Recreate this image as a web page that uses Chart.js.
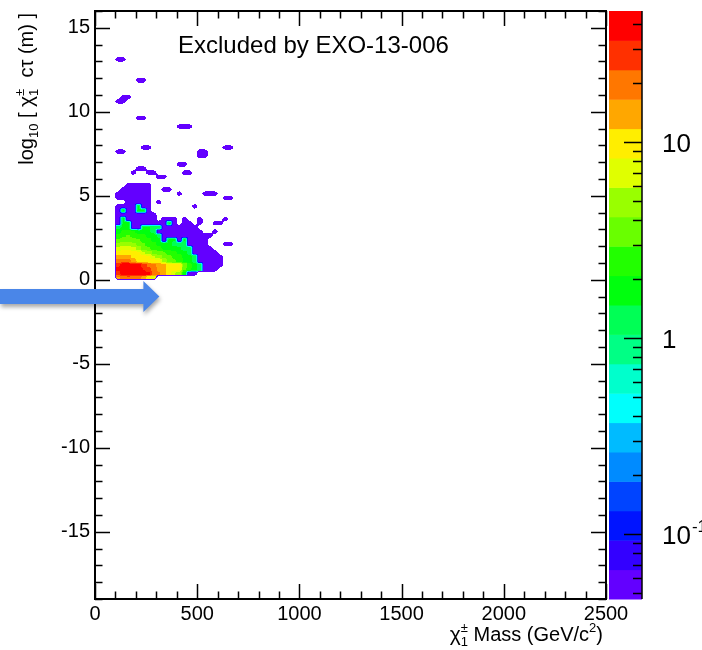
<!DOCTYPE html>
<html>
<head>
<meta charset="utf-8">
<script src="https://cdn.jsdelivr.net/npm/chart.js@4.4.1/dist/chart.umd.min.js"></script>
<style>
  html, body { margin: 0; padding: 0; background: #ffffff; }
  #wrap { width: 702px; height: 650px; }
</style>
</head>
<body>
<div id="wrap"><canvas id="c" width="702" height="650"></canvas></div>
<script>
// ---------------------------------------------------------------------------
// Data: event yield per (chargino mass, log10 c*tau) bin
// ---------------------------------------------------------------------------
const MASS_ORIGIN = 12.5, MASS_STEP = 25;     // GeV, bin centre offset / width
const LIFE_ORIGIN = 0.125, LIFE_STEP = 0.25;  // log10(c tau / m) centre offset / width

// mass bin centres (GeV) of the densely populated block
const massCentres = [112.5, 137.5, 162.5, 187.5, 212.5, 237.5, 262.5, 287.5, 312.5, 337.5, 362.5, 387.5,
                     412.5, 437.5, 462.5, 487.5, 512.5, 537.5, 562.5, 587.5, 612.5, 637.5, 662.5, 687.5];
// log10(c tau) bin centres of the densely populated block (bottom row first)
const lifetimeCentres = [0.125, 0.375, 0.625, 0.875, 1.125, 1.375, 1.625, 1.875, 2.125, 2.375, 2.625, 2.875,
                         3.125, 3.375, 3.625, 3.875, 4.125, 4.375, 4.625, 4.875, 5.125, 5.375, 5.625];
// yields, one row per lifetime bin, one column per mass bin (0 = empty)
const coreYield = [
  [16, 20, 22, 20, 18, 14, 10, 6, 0, 0, 0, 0, 0, 0, 0, 0, 0, 0, 0, 0, 0, 0, 0, 0],
  [28, 40, 44, 44, 42, 40, 36, 22, 17, 13, 9, 6, 4.5, 2, 0.05, 0.05, 0, 0, 0, 0, 0, 0, 0, 0],
  [36, 45, 46, 45, 42, 33, 25, 20, 16, 13, 10, 9, 8.5, 3, 2.2, 1.6, 1.2, 0.05, 0.05, 0.05, 0, 0, 0, 0],
  [32, 38, 40, 38, 36, 30, 22, 18, 15, 13, 10, 9, 8.5, 4, 2.5, 1.8, 1.3, 0.05, 0.05, 0.05, 0.05, 0, 0, 0],
  [18, 22, 20, 14, 11, 10, 9.5, 9, 8.5, 5, 4, 3, 2.5, 2, 1.6, 1.3, 0.05, 0.05, 0.05, 0.05, 0.05, 0, 0, 0],
  [13, 14, 13, 11, 9.5, 9, 8.5, 6, 5, 4, 3.2, 2.8, 2.4, 2, 1.6, 1.3, 0.05, 0.05, 0.05, 0.05, 0.05, 0, 0, 0],
  [9.5, 10, 10, 9.5, 8.5, 6, 5, 4, 3.5, 3, 2.5, 2.2, 2, 1.6, 1.3, 0.05, 0.05, 0.05, 0.05, 0.05, 0, 0, 0, 0],
  [6.5, 7, 7, 6.5, 5, 3.5, 3, 2.5, 2.2, 2, 1.8, 1.6, 1.5, 1.3, 1.2, 0.05, 0.05, 0.05, 0.05, 0, 0, 0, 0, 0],
  [4.5, 5, 5, 4.5, 4, 3, 2.5, 2.2, 2, 1.8, 1.6, 1.4, 1.3, 1.2, 0.05, 0.05, 0.05, 0.05, 0, 0, 0, 0.05, 0.05, 0],
  [3, 3.5, 3.5, 3.2, 3, 2.5, 2.2, 2, 1.6, 0.05, 1.5, 1.5, 0.05, 1.5, 0.05, 0.05, 0.05, 0.05, 0, 0, 0, 0, 0, 0],
  [2.2, 2.8, 3, 2.8, 2.4, 2.2, 2, 1.6, 1.4, 0.05, 0.05, 0.05, 0.05, 0.05, 0.05, 0.05, 0.05, 0.05, 0.05, 0, 0, 0, 0, 0],
  [1.6, 2.2, 2.5, 2.2, 1.8, 1.6, 1.5, 1.4, 0.05, 0.05, 0.05, 0.05, 0.05, 0.05, 0.05, 0.05, 0.05, 0, 0, 0.05, 0, 0, 0, 0],
  [1.4, 1.5, 1.6, 0.05, 0.05, 1.5, 1.5, 1.4, 1.4, 0.05, 0.05, 0.05, 0.05, 0.05, 0.05, 0.05, 0, 0, 0, 0, 0, 0, 0, 0],
  [0.05, 1.5, 1.6, 0.05, 0.05, 0.05, 0.05, 0.05, 0.05, 0.05, 1.5, 0.05, 0, 0.05, 0.05, 0, 0.05, 0, 0, 0.05, 0.05, 0, 0, 0],
  [0.05, 1.5, 0.05, 0.05, 0.05, 0.05, 0.05, 0.05, 0, 0.05, 0.05, 0.05, 0, 0.05, 0, 0, 0.05, 0, 0, 0, 0, 0.05, 0, 0],
  [0.05, 0.05, 0.05, 0.05, 0.05, 0.05, 0.05, 0.05, 0, 0, 0, 0, 0, 0, 0, 0, 0, 0, 0, 0, 0, 0, 0, 0],
  [0.05, 1.5, 0.05, 0.05, 1.6, 1.5, 0.05, 0, 0, 0, 0, 0, 0, 0, 0, 0, 0, 0, 0, 0, 0, 0, 0, 0],
  [0.05, 0.05, 0.05, 0.05, 1.5, 0.05, 0.05, 0, 0, 0, 0, 0, 0, 0, 0, 0.05, 0, 0, 0, 0, 0, 0, 0, 0],
  [0, 0, 0.05, 0.05, 0.05, 0.05, 0.05, 0, 0.05, 0, 0, 0, 0, 0, 0, 0, 0, 0, 0, 0, 0, 0, 0, 0],
  [0.05, 0.05, 0.05, 0.05, 0.05, 0.05, 0.05, 0, 0, 0, 0, 0, 0, 0, 0, 0, 0, 0, 0, 0, 0, 0.05, 0.05, 0],
  [0.05, 0.05, 0.05, 0.05, 0.05, 0.05, 0.05, 0, 0, 0, 0, 0, 0.05, 0, 0, 0, 0, 0.05, 0.05, 0.05, 0, 0, 0, 0],
  [0, 0.05, 0.05, 0.05, 0.05, 0.05, 0.05, 0, 0, 0.05, 0.05, 0, 0, 0, 0, 0, 0, 0, 0, 0, 0, 0, 0, 0],
  [0, 0, 0.05, 0.05, 0.05, 0.05, 0.05, 0, 0, 0, 0, 0, 0, 0, 0, 0, 0, 0, 0, 0, 0, 0, 0, 0]
];
// scattered long-lifetime bins: [mass (GeV), log10 c tau, yield]
const outlierCells = [
  [312.5, 6.125, 0.05], [337.5, 6.125, 0.05],
  [262.5, 6.375, 0.05], [287.5, 6.375, 0.05], [187.5, 6.375, 0.05], [437.5, 6.375, 0.05], [462.5, 6.375, 0.05],
  [212.5, 6.625, 0.05], [237.5, 6.625, 0.05],
  [412.5, 6.875, 0.05], [437.5, 6.875, 0.05],
  [512.5, 7.375, 0.05], [537.5, 7.375, 0.05],
  [512.5, 7.625, 0.05], [537.5, 7.625, 0.05], [112.5, 7.625, 0.05], [137.5, 7.625, 0.05],
  [237.5, 7.875, 0.05], [262.5, 7.875, 0.05], [637.5, 7.875, 0.05], [662.5, 7.875, 0.05],
  [412.5, 9.125, 0.05], [437.5, 9.125, 0.05], [462.5, 9.125, 0.05],
  [212.5, 9.625, 0.05], [237.5, 9.625, 0.05],
  [112.5, 10.625, 0.05], [137.5, 10.625, 0.05],
  [137.5, 10.875, 0.05], [162.5, 10.875, 0.05],
  [212.5, 11.875, 0.05], [237.5, 11.875, 0.05],
  [112.5, 13.125, 0.05], [137.5, 13.125, 0.05]
];

const xTicks = [0, 500, 1000, 1500, 2000, 2500];
const yTicks = [-15, -10, -5, 0, 5, 10, 15];
const zTicks = [0.1, 1, 10];
const zRange = [0.0468, 46.8];
// 20 contour colours, violet (lowest) to red (highest)
const paletteHues = [263.2, 252, 235.2, 224, 207.2, 196, 179.2, 168, 151.2, 140,
                     123.2, 112, 95.2, 84, 67.2, 56, 39.2, 28, 11.2, 0];

// ---------------------------------------------------------------------------
const FONT = "'Liberation Sans', Arial, Helvetica, sans-serif";
const PRESENCE_CUT = 0.45;  // fraction of populated neighbours needed to paint a pixel
const RIM = 0.22;           // outer band drawn in the lowest colour

const cells = [];
coreYield.forEach((row, j) => row.forEach((v, k) => {
  if (v > 0) cells.push({ x: massCentres[k], y: lifetimeCentres[j], v });
}));
outlierCells.forEach(([x, y, v]) => cells.push({ x, y, v }));

const colours = paletteHues.map(h => `hsl(${h},100%,50%)`);
const smooth = t => t * t * (3 - 2 * t);
const sharp = t => smooth(smooth(t));

// contour-style fill of the binned yields, interpolated between bin centres
const heatmapPlugin = {
  id: 'heatmap',
  beforeDatasetsDraw(chart) {
    const { ctx, chartArea: a, scales: { x: xs, y: ys } } = chart;
    const grid = new Map();
    let kMin = Infinity, kMax = -Infinity, jMin = Infinity, jMax = -Infinity;
    for (const p of chart.data.datasets[0].data) {
      const k = Math.round((p.x - MASS_ORIGIN) / MASS_STEP);
      const j = Math.round((p.y - LIFE_ORIGIN) / LIFE_STEP);
      grid.set(k + ',' + j, Math.log10(p.v));
      kMin = Math.min(kMin, k); kMax = Math.max(kMax, k);
      jMin = Math.min(jMin, j); jMax = Math.max(jMax, j);
    }
    const lz0 = Math.log10(zRange[0]);
    const dl = (Math.log10(zRange[1]) - lz0) / paletteHues.length;

    const levelAt = (k0, j0, tx, ty) => {
      const L = [grid.get(k0 + ',' + j0), grid.get((k0 + 1) + ',' + j0),
                 grid.get(k0 + ',' + (j0 + 1)), grid.get((k0 + 1) + ',' + (j0 + 1))];
      const w = [(1 - tx) * (1 - ty), tx * (1 - ty), (1 - tx) * ty, tx * ty];
      let P = 0;
      for (let i = 0; i < 4; i++) if (L[i] !== undefined) P += w[i];
      if (P < PRESENCE_CUT) return -1;
      if (P < PRESENCE_CUT + RIM) return 0;
      const sx = sharp(tx), sy = sharp(ty);
      const ws = [(1 - sx) * (1 - sy), sx * (1 - sy), (1 - sx) * sy, sx * sy];
      let num = 0, den = 0;
      for (let i = 0; i < 4; i++) if (L[i] !== undefined) { num += ws[i] * L[i]; den += ws[i]; }
      if (den < 1e-9) {
        num = 0; den = 0;
        for (let i = 0; i < 4; i++) if (L[i] !== undefined) { num += w[i] * L[i]; den += w[i]; }
      }
      const F = num / den;
      if (F < lz0) return -1;
      return Math.max(0, Math.min(paletteHues.length - 1, Math.floor((F - lz0) / dl)));
    };

    const px0 = Math.max(Math.floor(a.left), Math.floor(xs.getPixelForValue(MASS_ORIGIN + (kMin - 1) * MASS_STEP)));
    const px1 = Math.min(Math.ceil(a.right), Math.ceil(xs.getPixelForValue(MASS_ORIGIN + (kMax + 1) * MASS_STEP)));
    const py0 = Math.max(Math.floor(a.top), Math.floor(ys.getPixelForValue(LIFE_ORIGIN + (jMax + 1) * LIFE_STEP)));
    const py1 = Math.min(Math.ceil(a.bottom), Math.ceil(ys.getPixelForValue(LIFE_ORIGIN + (jMin - 1) * LIFE_STEP)));

    ctx.save();
    ctx.beginPath();
    ctx.rect(a.left, a.top, a.right - a.left, a.bottom - a.top);
    ctx.clip();
    for (let py = py0; py < py1; py++) {
      const fj = (ys.getValueForPixel(py + 0.5) - LIFE_ORIGIN) / LIFE_STEP;
      const j0 = Math.floor(fj), ty = fj - j0;
      let runX = px0, runC = -1;
      for (let px = px0; px <= px1; px++) {
        let c = -1;
        if (px < px1) {
          const fk = (xs.getValueForPixel(px + 0.5) - MASS_ORIGIN) / MASS_STEP;
          const k0 = Math.floor(fk);
          c = levelAt(k0, j0, fk - k0, ty);
        }
        if (c !== runC) {
          if (runC >= 0) { ctx.fillStyle = colours[runC]; ctx.fillRect(runX, py, px - runX, 1); }
          runX = px; runC = c;
        }
      }
    }
    ctx.restore();
  }
};

// draws a run of text pieces (with sub/superscripts) starting at x; returns width
function richText(ctx, parts, x, y, draw) {
  let cx = x;
  for (const p of parts) {
    ctx.font = `${p.size}px ${FONT}`;
    if (p.stack) {
      const w = Math.max(ctx.measureText(p.stack[0]).width, ctx.measureText(p.stack[1]).width);
      if (draw) { ctx.fillText(p.stack[0], cx, y + p.dy[0]); ctx.fillText(p.stack[1], cx, y + p.dy[1]); }
      cx += w;
    } else {
      if (draw) ctx.fillText(p.text, cx, y + (p.dy || 0));
      cx += ctx.measureText(p.text).width;
    }
  }
  return cx - x;
}

const framePlugin = {
  id: 'frame',
  afterDraw(chart) {
    const { ctx, chartArea: a, scales: { x: xs, y: ys, z: zs } } = chart;
    ctx.save();
    ctx.strokeStyle = '#000';
    ctx.fillStyle = '#000';

    // frame ticks (all four sides, pointing inwards)
    ctx.lineWidth = 1.5;
    ctx.beginPath();
    for (let v = 0; v <= 2500; v += 100) {
      const p = Math.round(xs.getPixelForValue(v)) + 0.5;
      const len = v % 500 === 0 ? 15 : 7.5;
      ctx.moveTo(p, a.bottom); ctx.lineTo(p, a.bottom - len);
      ctx.moveTo(p, a.top); ctx.lineTo(p, a.top + len);
    }
    for (let v = -19; v <= 16; v++) {
      const p = Math.round(ys.getPixelForValue(v)) + 0.5;
      const len = v % 5 === 0 ? 15 : 7.5;
      ctx.moveTo(a.left, p); ctx.lineTo(a.left + len, p);
      ctx.moveTo(a.right, p); ctx.lineTo(a.right - len, p);
    }
    ctx.stroke();
    ctx.lineWidth = 2;
    ctx.strokeRect(a.left, a.top, a.right - a.left, a.bottom - a.top);

    // colour bar
    const barL = zs.left + 3, barR = zs.left + 36;
    const lz0 = Math.log10(zRange[0]);
    const dl = (Math.log10(zRange[1]) - lz0) / paletteHues.length;
    for (let i = 0; i < paletteHues.length; i++) {
      const yLo = zs.getPixelForValue(Math.pow(10, lz0 + i * dl));
      const yHi = zs.getPixelForValue(Math.pow(10, lz0 + (i + 1) * dl));
      ctx.fillStyle = colours[i];
      ctx.fillRect(barL, yHi, barR - barL, yLo - yHi + 0.5);
    }
    ctx.strokeStyle = '#000';
    ctx.lineWidth = 1.5;
    ctx.beginPath();
    ctx.moveTo(barR, zs.top); ctx.lineTo(barR, zs.bottom);
    for (const dec of [0.01, 0.1, 1, 10]) {
      for (let m = 1; m <= 9; m++) {
        const v = m * dec;
        if (v < zRange[0] || v > zRange[1]) continue;
        const p = Math.round(zs.getPixelForValue(v)) + 0.5;
        const len = m === 1 ? 18 : 9;
        ctx.moveTo(barR, p); ctx.lineTo(barR - len, p);
      }
    }
    ctx.stroke();
    ctx.fillStyle = '#000';
    ctx.textAlign = 'left';
    ctx.textBaseline = 'alphabetic';
    for (const v of zTicks) {
      const p = zs.getPixelForValue(v);
      const lx = barR + 20;
      ctx.font = `26px ${FONT}`;
      if (v >= 1) {
        ctx.fillText(String(v), lx, p + 9.5);
      } else {
        ctx.fillText('10', lx, p + 9.5);
        const w = ctx.measureText('10').width;
        ctx.font = `17px ${FONT}`;
        ctx.fillText(String(Math.round(Math.log10(v))), lx + w + 1, p - 2);
      }
    }

    // annotation
    ctx.font = `24px ${FONT}`;
    ctx.fillText('Excluded by EXO-13-006', a.left + 83, a.top + 42);

    // x-axis title, right aligned at the frame edge
    const xParts = [
      { text: 'χ', size: 21 },
      { stack: ['±', '1'], size: 13, dy: [-9, 5] },
      { text: ' Mass (GeV/c', size: 20 },
      { text: '2', size: 13, dy: -9 },
      { text: ')', size: 20 }
    ];
    const xw = richText(ctx, xParts, 0, 0, false);
    richText(ctx, xParts, a.right - 3 - xw, 641, true);

    // y-axis title, rotated, ending near the top of the frame
    const yParts = [
      { text: 'log', size: 20 },
      { text: '10', size: 13, dy: 5 },
      { text: ' [ ', size: 20 },
      { text: 'χ', size: 21 },
      { stack: ['±', '1'], size: 13, dy: [-9, 5] },
      { text: '  cτ (m) ]', size: 20 }
    ];
    const yw = richText(ctx, yParts, 0, 0, false);
    ctx.save();
    ctx.translate(33, a.top + 2 + yw);
    ctx.rotate(-Math.PI / 2);
    richText(ctx, yParts, 0, 0, true);
    ctx.restore();

    // marker arrow pointing at c tau = 0.1 m
    const ya = ys.getPixelForValue(-1);
    const tip = xs.getPixelForValue(315);
    ctx.save();
    ctx.shadowColor = 'rgba(0,0,0,0.35)';
    ctx.shadowBlur = 4;
    ctx.shadowOffsetX = 1;
    ctx.shadowOffsetY = 3;
    ctx.fillStyle = '#4a86e8';
    ctx.beginPath();
    ctx.moveTo(0, ya - 7.5);
    ctx.lineTo(tip - 16, ya - 7.5);
    ctx.lineTo(tip - 16, ya - 15.5);
    ctx.lineTo(tip, ya);
    ctx.lineTo(tip - 16, ya + 15.5);
    ctx.lineTo(tip - 16, ya + 7.5);
    ctx.lineTo(0, ya + 7.5);
    ctx.closePath();
    ctx.fill();
    ctx.restore();

    ctx.restore();
  }
};

new Chart(document.getElementById('c'), {
  type: 'scatter',
  data: {
    datasets: [{ data: cells, pointRadius: 0, pointHoverRadius: 0, showLine: false }]
  },
  options: {
    responsive: false,
    animation: false,
    devicePixelRatio: 1,
    events: [],
    layout: { padding: { top: 11, left: 0, right: 0, bottom: 0 } },
    plugins: { legend: { display: false }, tooltip: { enabled: false } },
    scales: {
      x: {
        type: 'linear', position: 'bottom', min: 0, max: 2500,
        grid: { display: false, drawTicks: false }, border: { display: false },
        afterBuildTicks: s => { s.ticks = xTicks.map(v => ({ value: v })); },
        ticks: { font: { family: FONT, size: 20 }, color: '#000', padding: 3, maxRotation: 0, autoSkip: false,
                 callback: v => String(v) },
        afterFit: s => { s.height = 51; s.paddingLeft = 0; s.paddingRight = 0; }
      },
      y: {
        type: 'linear', position: 'left', min: -19, max: 16,
        grid: { display: false, drawTicks: false }, border: { display: false },
        afterBuildTicks: s => { s.ticks = yTicks.map(v => ({ value: v })); },
        ticks: { font: { family: FONT, size: 20 }, color: '#000', padding: 5, autoSkip: false,
                 callback: v => String(v) },
        afterFit: s => { s.width = 95; s.paddingTop = 0; s.paddingBottom = 0; }
      },
      z: {
        type: 'logarithmic', axis: 'y', position: 'right', min: zRange[0], max: zRange[1],
        grid: { display: false, drawTicks: false }, border: { display: false },
        ticks: { display: false },
        afterFit: s => { s.width = 96; s.paddingTop = 0; s.paddingBottom = 0; }
      }
    }
  },
  plugins: [heatmapPlugin, framePlugin]
});
</script>
</body>
</html>
